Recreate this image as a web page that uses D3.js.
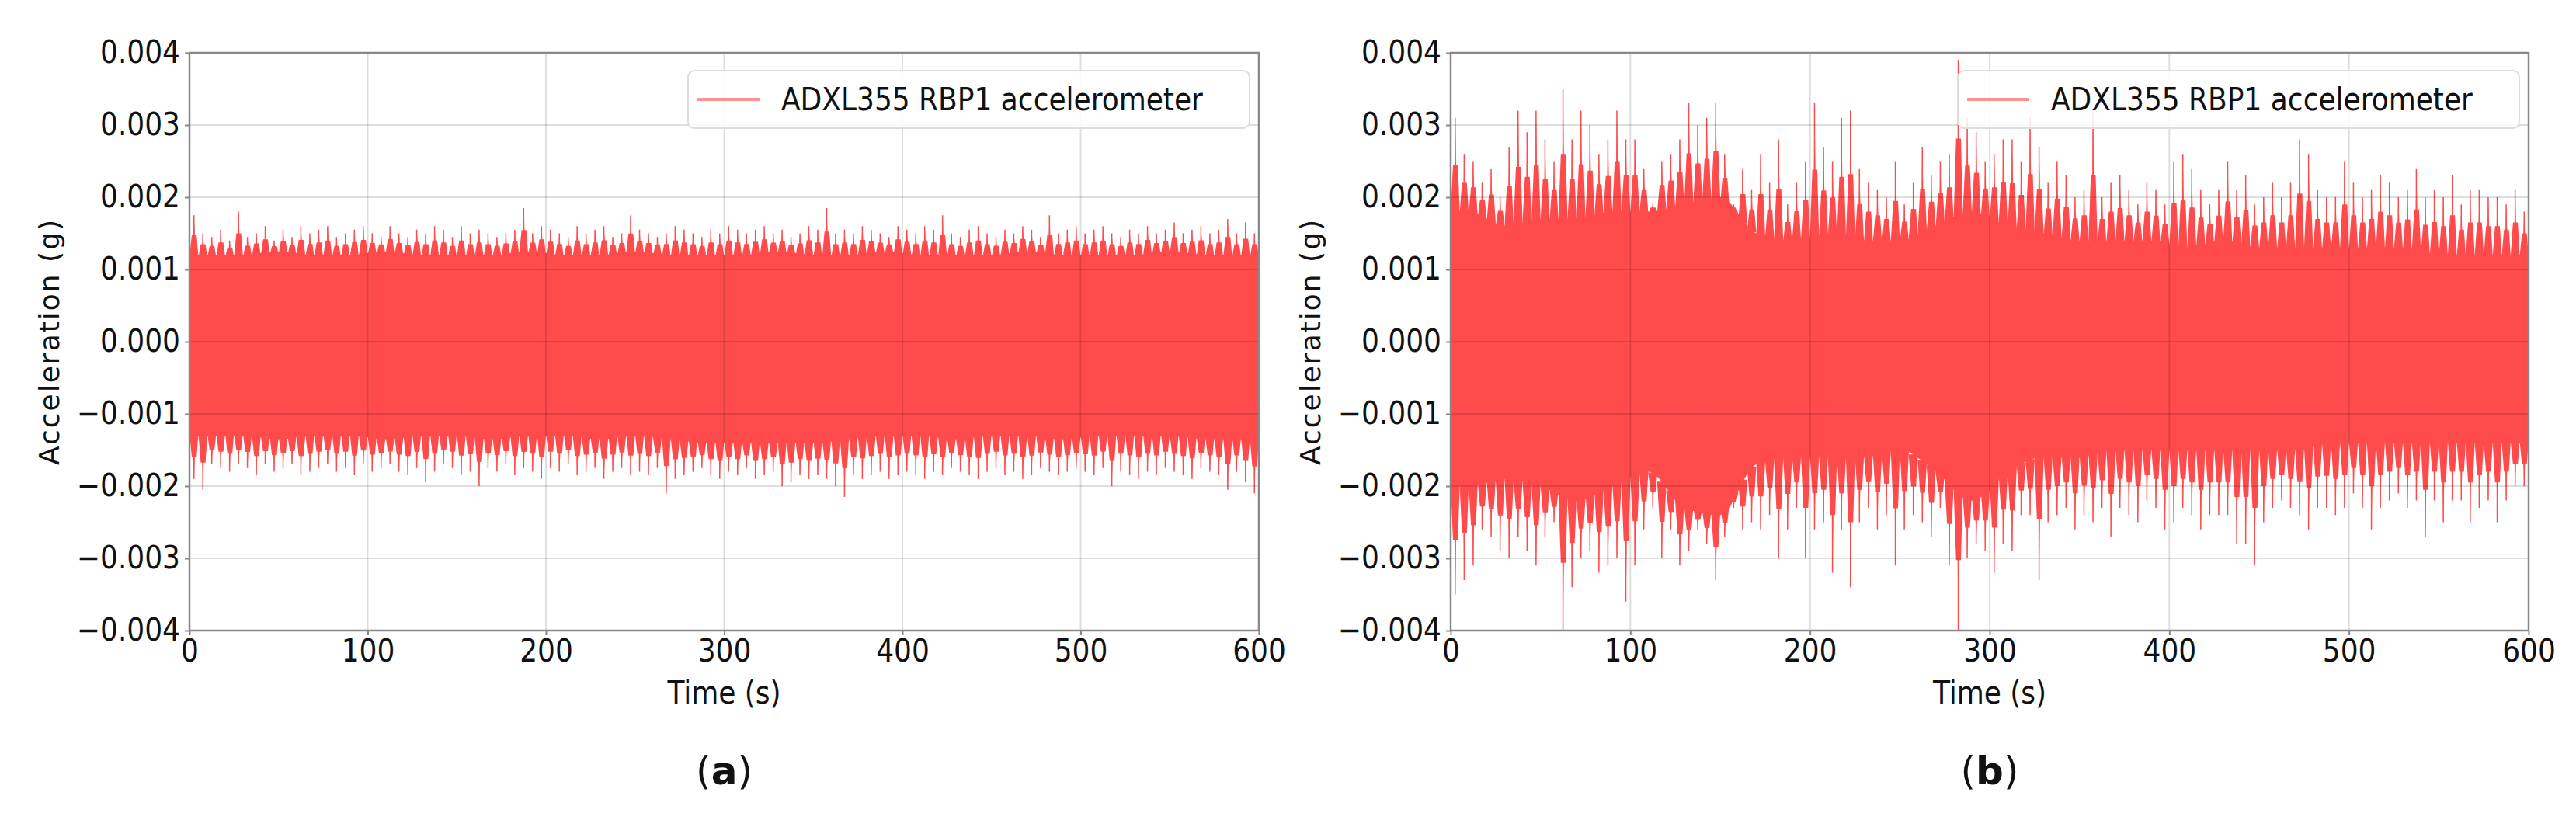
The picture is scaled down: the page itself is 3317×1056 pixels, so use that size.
<!DOCTYPE html>
<html><head><meta charset="utf-8">
<script src="https://cdn.jsdelivr.net/npm/d3@7"></script>
<style>
body{margin:0;background:#fff}
text{font-family:"DejaVu Sans Condensed","Liberation Sans Narrow",sans-serif}
</style></head><body>
<svg id="chart" width="3317" height="1056"></svg>
<script>
// peak values per 5 s bin, in mg
const aMax = [1.75,1.5,1.45,1.55,1.4,1.8,1.45,1.5,1.6,1.4, 1.55,1.45,1.6,1.5,1.55,1.6,1.45,1.5,1.55,1.6,
  1.5,1.45,1.6,1.5,1.45,1.55,1.5,1.6,1.55,1.45, 1.6,1.5,1.55,1.5,1.45,1.5,1.55,1.85,1.5,1.6,
  1.55,1.5,1.45,1.6,1.5,1.55,1.6,1.45,1.5,1.75, 1.55,1.5,1.45,1.5,1.6,1.55,1.5,1.45,1.55,1.5,
  1.6,1.55,1.5,1.55,1.6,1.5,1.55,1.45,1.5,1.6, 1.55,1.85,1.5,1.55,1.5,1.6,1.55,1.5,1.45,1.6,
  1.55,1.5,1.6,1.55,1.75,1.5,1.45,1.55,1.6,1.5, 1.45,1.55,1.5,1.6,1.55,1.45,1.75,1.5,1.55,1.6,
  1.5,1.55,1.6,1.5,1.45,1.55,1.5,1.6,1.5,1.55, 1.65,1.5,1.55,1.6,1.5,1.55,1.7,1.5,1.65,1.5];
const aMin = [-1.9,-2.05,-1.7,-1.75,-1.8,-1.7,-1.75,-1.85,-1.7,-1.8, -1.75,-1.7,-1.85,-1.8,-1.75,-1.7,-1.8,-1.75,-1.85,-1.7,
  -1.8,-1.75,-1.7,-1.8,-1.85,-1.75,-1.95,-1.8,-1.7,-1.75, -1.85,-1.8,-2.0,-1.75,-1.8,-1.7,-1.85,-1.75,-1.8,-1.9,
  -1.75,-1.8,-1.7,-1.85,-1.8,-1.75,-1.9,-1.8,-1.75,-1.85, -1.8,-1.85,-1.75,-2.1,-1.9,-1.85,-1.8,-1.75,-1.85,-1.9,
  -1.8,-1.85,-1.75,-1.9,-1.85,-1.8,-2.0,-1.95,-1.85,-1.9, -1.85,-1.9,-2.0,-2.15,-1.85,-1.9,-1.85,-1.8,-1.9,-1.85,
  -1.8,-1.85,-1.9,-1.8,-1.85,-1.75,-1.8,-1.85,-1.9,-1.8, -1.75,-1.85,-1.8,-1.9,-1.85,-1.75,-1.8,-1.85,-1.8,-1.75,
  -1.8,-1.85,-1.75,-2.0,-1.8,-1.85,-1.9,-1.8,-1.85,-1.75, -1.8,-1.85,-1.9,-1.75,-1.8,-1.85,-2.05,-1.8,-1.95,-2.1];
const bMax = [3.1,2.6,2.5,2.2,2.4,2.0,2.7,3.2,2.9,3.2, 2.8,2.5,3.5,2.8,3.2,3.0,2.6,2.8,3.2,2.8,
  2.8,2.4,1.9,2.5,2.6,2.8,3.3,3.0,3.1,3.3, 2.6,1.9,2.4,2.1,2.6,2.2,2.8,1.9,2.2,2.5,
  3.3,2.7,2.5,3.1,3.2,2.4,2.2,2.1,2.0,2.5, 1.9,2.2,2.7,2.3,2.5,2.6,3.9,3.1,2.9,2.5,
  2.6,2.8,2.8,2.5,3.1,2.7,2.2,2.5,2.3,2.0, 2.1,3.2,2.0,2.2,2.3,2.1,1.9,2.2,2.1,1.9,
  2.5,2.6,2.4,2.1,1.9,2.1,2.5,2.1,2.3,1.9, 2.0,2.2,2.0,2.2,2.8,2.6,2.1,2.0,2.0,2.5,
  2.2,2.0,2.1,2.3,2.2,2.0,2.1,2.4,2.0,2.1, 2.0,2.3,1.9,2.1,2.1,2.0,2.0,1.9,2.1,1.8];
const bMin = [-3.5,-3.3,-3.1,-2.6,-2.7,-2.9,-3.0,-2.7,-2.9,-3.1, -2.7,-2.5,-4.0,-3.4,-3.0,-2.9,-3.2,-3.1,-3.0,-3.6,
  -3.1,-2.6,-2.3,-3.0,-2.6,-3.1,-2.9,-2.6,-2.8,-3.3, -2.7,-2.3,-2.6,-2.5,-2.6,-2.4,-3.0,-2.6,-2.3,-3.0,
  -2.6,-2.5,-3.2,-2.6,-3.4,-2.5,-2.3,-2.6,-2.4,-3.1, -2.6,-2.4,-2.5,-2.7,-2.3,-3.1,-4.0,-3.0,-2.8,-2.9,
  -3.2,-2.8,-2.9,-2.4,-2.4,-3.3,-2.5,-2.4,-2.3,-2.6, -2.4,-2.5,-2.3,-2.7,-2.3,-2.4,-2.5,-2.2,-2.3,-2.6,
  -2.5,-2.3,-2.4,-2.6,-2.4,-2.4,-2.4,-2.8,-2.8,-3.1, -2.5,-2.3,-2.2,-2.3,-2.4,-2.6,-2.3,-2.3,-2.4,-2.3,
  -2.1,-2.3,-2.6,-2.3,-2.2,-2.1,-2.3,-2.2,-2.7,-2.2, -2.5,-2.2,-2.2,-2.5,-2.3,-2.2,-2.5,-2.2,-2.0,-2.0];
// dense band limits per 20 s bin, in mg
const aCoreUp = [1.2,1.2,1.25,1.2,1.2,1.25,1.2,1.2,1.2,1.25,1.2,1.2,1.25,1.2,1.2,1.2,1.25,1.2,1.2,1.25,1.2,1.2,1.2,1.25,1.2,1.2,1.2,1.25,1.2,1.2];
const aCoreLo = [-1.3,-1.3,-1.35,-1.3,-1.3,-1.35,-1.3,-1.3,-1.35,-1.3,-1.3,-1.35,-1.3,-1.35,-1.4,-1.4,-1.4,-1.4,-1.35,-1.3,-1.3,-1.35,-1.3,-1.3,-1.35,-1.3,-1.3,-1.3,-1.35,-1.35];
const bCoreUp = [1.8,1.6,1.7,1.7,1.8,1.8,1.9,2.0,1.5,1.4,1.5,1.4,1.4,1.6,1.8,1.6,1.5,1.4,1.4,1.4,1.3,1.4,1.3,1.3,1.3,1.3,1.3,1.2,1.2,1.2];
const bCoreLo = [-2.0,-1.9,-2.0,-2.2,-2.0,-1.8,-2.3,-2.4,-1.7,-1.6,-1.6,-1.6,-1.5,-1.8,-2.2,-1.8,-1.6,-1.6,-1.5,-1.5,-1.5,-1.5,-1.5,-1.5,-1.4,-1.4,-1.4,-1.4,-1.4,-1.4];
const yTicks = [-0.004,-0.003,-0.002,-0.001,0,0.001,0.002,0.003,0.004];
const xTicks = [0,100,200,300,400,500,600];

const svg = d3.select('#chart');
const red = '#ff4b4b';

function panel(left, right, maxs, mins, coreUp, coreLo, tag) {
  const top = 68, bottom = 812;
  const x = d3.scaleLinear().domain([0, 600]).range([left, right]);
  const y = d3.scaleLinear().domain([-0.004, 0.004]).range([bottom, top]);
  const g = svg.append('g');
  const clip = 'clip' + tag;
  g.append('clipPath').attr('id', clip).append('rect')
    .attr('x', left).attr('y', top).attr('width', right - left).attr('height', bottom - top);
  const plot = g.append('g').attr('clip-path', `url(#${clip})`);

  // dense band
  const core = coreUp.map((u, i) => ({t: i * 20 + 10, u: u / 1000, l: coreLo[i] / 1000}));
  core.unshift({t: 0, u: core[0].u, l: core[0].l});
  core.push({t: 600, u: core[core.length - 1].u, l: core[core.length - 1].l});
  const coreAt = t => {
    const k = d3.bisector(d => d.t).left(core, t);
    const b = core[Math.min(k, core.length - 1)], a = core[Math.max(k - 1, 0)];
    const f = b.t === a.t ? 0 : (t - a.t) / (b.t - a.t);
    return {u: a.u + f * (b.u - a.u), l: a.l + f * (b.l - a.l)};
  };
  plot.append('path').datum(core)
    .attr('d', d3.area().x(d => x(d.t)).y0(d => y(d.l)).y1(d => y(d.u)).curve(d3.curveMonotoneX))
    .attr('fill', red);

  // spikes from the band out to the bin peaks
  const bins = maxs.map((m, i) => ({t: i * 5 + 2.5, hi: m / 1000, lo: mins[i] / 1000}));
  bins.forEach(d => {
    const c = coreAt(d.t);
    const mid = (c.u + d.hi) / 2, midL = (c.l + d.lo) / 2;
    plot.append('path')
      .attr('d', `M${x(d.t - 2.6)},${y(c.u - 0.00005)}L${x(d.t - 1.2)},${y(mid)}L${x(d.t - 0.3)},${y(mid)}L${x(d.t)},${y(d.hi)}L${x(d.t + 0.5)},${y(mid)}L${x(d.t + 1.5)},${y(mid)}L${x(d.t + 2.6)},${y(c.u - 0.00005)}Z`)
      .attr('fill', red);
    plot.append('path')
      .attr('d', `M${x(d.t - 2.6)},${y(c.l + 0.00005)}L${x(d.t - 1.2)},${y(midL)}L${x(d.t - 0.3)},${y(midL)}L${x(d.t)},${y(d.lo)}L${x(d.t + 0.5)},${y(midL)}L${x(d.t + 1.5)},${y(midL)}L${x(d.t + 2.6)},${y(c.l + 0.00005)}Z`)
      .attr('fill', red);
    plot.append('line').attr('x1', x(d.t)).attr('x2', x(d.t))
      .attr('y1', y(d.lo)).attr('y2', y(d.hi)).attr('stroke', red).attr('stroke-width', 1.5);
  });

  // grid
  g.append('g').selectAll('line').data(yTicks.slice(1, -1)).join('line')
    .attr('x1', left).attr('x2', right).attr('y1', d => y(d)).attr('y2', d => y(d))
    .attr('stroke', '#000').attr('stroke-opacity', 0.13).attr('stroke-width', 2);
  g.append('g').selectAll('line').data(xTicks.slice(1, -1)).join('line')
    .attr('y1', top).attr('y2', bottom).attr('x1', d => x(d)).attr('x2', d => x(d))
    .attr('stroke', '#000').attr('stroke-opacity', 0.13).attr('stroke-width', 2);

  // frame
  g.append('rect').attr('x', left).attr('y', top).attr('width', right - left).attr('height', bottom - top)
    .attr('fill', 'none').attr('stroke', '#888').attr('stroke-width', 2.5);

  const ax = g.append('g').attr('transform', `translate(0,${bottom})`)
    .call(d3.axisBottom(x).tickValues(xTicks).tickFormat(d3.format('d')).tickSize(6).tickPadding(6));
  const ay = g.append('g').attr('transform', `translate(${left},0)`)
    .call(d3.axisLeft(y).tickValues(yTicks).tickFormat(d => d3.format('.3f')(d).replace('-', '\u2212')).tickSize(6).tickPadding(6));
  [ax, ay].forEach(a => {
    a.select('.domain').remove();
    a.selectAll('line').attr('stroke', '#888').attr('stroke-width', 2);
    a.selectAll('text').attr('font-size', 40).attr('fill', '#111')
      .style('font-family', '"DejaVu Sans Condensed","Liberation Sans Narrow",sans-serif');
  });

  g.append('text').attr('x', (left + right) / 2).attr('y', 906).attr('text-anchor', 'middle')
    .attr('font-size', 40).attr('fill', '#111').text('Time (s)');
  g.append('text').attr('transform', `translate(${left - 168},${(top + bottom) / 2}) rotate(-90)`)
    .attr('text-anchor', 'middle').attr('font-size', 36).attr('fill', '#111')
    .style('font-family', '"DejaVu Sans",sans-serif').attr('letter-spacing', 2).text('Acceleration (g)');
  g.append('text').attr('x', (left + right) / 2).attr('y', 1010).attr('text-anchor', 'middle')
    .attr('font-size', 50).attr('fill', '#111')
    .style('font-family', '"DejaVu Sans",sans-serif')
    .html(`(<tspan font-weight="bold">${tag}</tspan>)`);

  // legend
  const lx = right - 735, ly = 91;
  g.append('rect').attr('x', lx).attr('y', ly).attr('width', 723).attr('height', 74).attr('rx', 8)
    .attr('fill', '#fff').attr('fill-opacity', 0.85).attr('stroke', '#ddd').attr('stroke-width', 2);
  g.append('line').attr('x1', lx + 12).attr('x2', lx + 92).attr('y1', ly + 37).attr('y2', ly + 37)
    .attr('stroke', red).attr('stroke-opacity', 0.6).attr('stroke-width', 4);
  g.append('text').attr('x', lx + 120).attr('y', ly + 51).attr('font-size', 40).attr('fill', '#111')
    .text('ADXL355 RBP1 accelerometer');
}

panel(244, 1621, aMax, aMin, aCoreUp, aCoreLo, 'a');
panel(1868, 3256, bMax, bMin, bCoreUp, bCoreLo, 'b');
</script>
</body></html>
